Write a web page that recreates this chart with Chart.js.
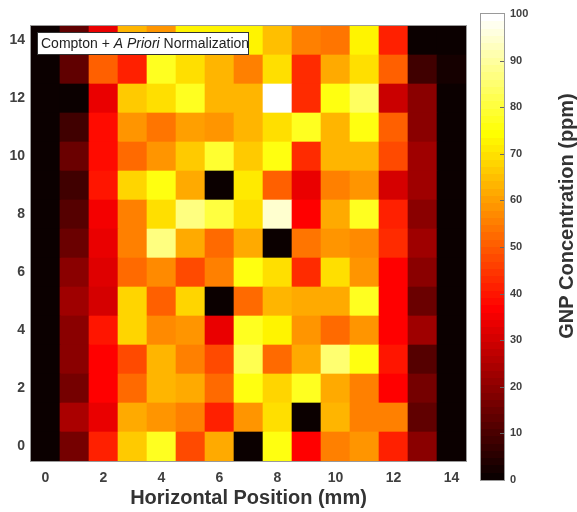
<!DOCTYPE html>
<html>
<head>
<meta charset="utf-8">
<script src="https://cdn.jsdelivr.net/npm/chart.js@4/dist/chart.umd.min.js"></script>
<style>
    body { margin: 0; background: #fff; width: 577px; height: 512px; overflow: hidden; position: relative; }
    #heat-wrap { position: absolute; left: 0; top: 0; width: 477px; height: 512px; }
    #bar-wrap { position: absolute; left: 477px; top: 0; width: 100px; height: 512px; }
</style>
</head>
<body>
<div id="heat-wrap"><canvas id="heatmap"></canvas></div>
<div id="bar-wrap"><canvas id="colorbar"></canvas></div>
<script>
const xPositions = ['0', '1', '2', '3', '4', '5', '6', '7', '8', '9', '10', '11', '12', '13', '14'];
const yTicks = [0, 2, 4, 6, 8, 10, 12, 14];
const barTicks = [0, 10, 20, 30, 40, 50, 60, 70, 80, 90, 100];

// GNP concentration (ppm), one array per vertical position, columns 0..14 mm
const row14 = [0, 13, 33, 64, 59, 72, 72, 73, 65, 56, 54, 73, 41, 0, 0];
const row13 = [0, 13, 50, 41, 77, 69, 63, 55, 69, 43, 62, 70, 50, 9, 3];
const row12 = [0, 0, 33, 67, 70, 78, 63, 63, 100, 43, 75, 84, 29, 19, 0];
const row11 = [0, 9, 39, 58, 54, 60, 58, 63, 70, 77, 64, 75, 50, 19, 0];
const row10 = [0, 15, 38, 53, 59, 67, 79, 67, 76, 43, 64, 64, 47, 23, 0];
const row9 = [0, 9, 40, 68, 75, 61, 0, 71, 50, 34, 56, 58, 30, 23, 0];
const row8 = [0, 11, 35, 56, 70, 87, 81, 70, 95, 37, 61, 77, 41, 20, 0];
const row7 = [0, 15, 34, 55, 86, 62, 52, 61, 0, 54, 59, 57, 43, 23, 0];
const row6 = [0, 19, 32, 52, 57, 48, 56, 75, 70, 43, 69, 58, 36, 19, 0];
const row5 = [0, 23, 31, 68, 50, 68, 0, 52, 64, 61, 61, 77, 37, 15, 0];
const row4 = [0, 20, 40, 68, 57, 58, 34, 78, 73, 59, 53, 59, 37, 23, 0];
const row3 = [0, 19, 36, 47, 63, 56, 48, 82, 53, 61, 85, 75, 40, 12, 0];
const row2 = [0, 16, 36, 53, 64, 62, 52, 75, 68, 78, 61, 56, 37, 17, 0];
const row1 = [0, 24, 33, 62, 58, 55, 41, 59, 70, 0, 63, 56, 56, 13, 0];
const row0 = [0, 16, 41, 67, 77, 47, 62, 0, 75, 36, 56, 58, 41, 19, 0];
const rows = [row0, row1, row2, row3, row4, row5, row6, row7, row8, row9, row10, row11, row12, row13, row14];

const FONT = '"Liberation Sans", Arial, Helvetica, sans-serif';
const LEVELS = 64;

// 64-step "hot" colormap: red ramps first, then green, then blue
function hotColor(idx) {
    const n = 24;
    const i = idx + 1;
    const r = Math.min(1, i / n);
    const g = i <= n ? 0 : Math.min(1, (i - n) / n);
    const b = i <= 2 * n ? 0 : (i - 2 * n) / (LEVELS - 2 * n);
    return `rgb(${Math.round(r * 255)},${Math.round(g * 255)},${Math.round(b * 255)})`;
}

function valueToColor(v) {
    const idx = Math.min(LEVELS - 1, Math.max(0, Math.floor(v / 100 * LEVELS)));
    return hotColor(idx);
}

Chart.defaults.font.family = FONT;
Chart.defaults.animation = false;

const heatDatasets = rows.map((vals, k) => ({
    data: xPositions.map(() => [k - 0.5, k + 0.5]),
    backgroundColor: vals.map(valueToColor),
    borderWidth: 0,
    barPercentage: 1,
    categoryPercentage: 1,
    grouped: false
}));

const heatDecor = {
    id: 'heatDecor',
    afterDraw(chart) {
        const { ctx, chartArea: a } = chart;
        ctx.save();
        ctx.strokeStyle = '#9a9a9a';
        ctx.lineWidth = 1;
        ctx.strokeRect(a.left - 0.5, a.top - 0.5, a.right - a.left + 1, a.bottom - a.top + 1);

        // legend box
        ctx.fillStyle = '#fff';
        ctx.fillRect(37, 32, 212, 23);
        ctx.strokeStyle = '#333';
        ctx.strokeRect(37.5, 32.5, 211, 22);
        const parts = [
            ['Compton + ', 'normal'],
            ['A Priori', 'italic'],
            [' Normalization', 'normal']
        ];
        let x = 41;
        ctx.fillStyle = '#222';
        ctx.textBaseline = 'middle';
        parts.forEach(([txt, style]) => {
            ctx.font = `${style} 14px ${FONT}`;
            ctx.fillText(txt, x, 44);
            x += ctx.measureText(txt).width;
        });
        ctx.restore();
    }
};

new Chart(document.getElementById('heatmap'), {
    type: 'bar',
    data: { labels: xPositions, datasets: heatDatasets },
    options: {
        responsive: true,
        maintainAspectRatio: false,
        events: [],
        layout: { padding: { top: 26, right: 11, left: 0, bottom: 0 } },
        plugins: { legend: { display: false }, tooltip: { enabled: false } },
        scales: {
            x: {
                type: 'category',
                offset: true,
                grid: { display: false, drawTicks: false },
                border: { display: false },
                ticks: {
                    autoSkip: false,
                    maxRotation: 0,
                    padding: 9,
                    color: '#404040',
                    font: { size: 14, weight: 'bold' },
                    callback(v, i) { return i % 2 === 0 ? this.getLabelForValue(v) : ''; }
                },
                title: {
                    display: true,
                    text: 'Horizontal Position (mm)',
                    color: '#333',
                    font: { size: 20, weight: 'bold' },
                    padding: { top: 4, bottom: 2 }
                },
                afterFit(s) { s.height = 51; }
            },
            y: {
                type: 'linear',
                min: -0.5,
                max: 14.5,
                afterBuildTicks(s) { s.ticks = yTicks.map(v => ({ value: v })); },
                grid: { display: false, drawTicks: false },
                border: { display: false },
                ticks: { padding: 6, color: '#404040', font: { size: 14, weight: 'bold' } },
                afterFit(s) { s.width = 31; }
            }
        }
    },
    plugins: [heatDecor]
});

// colour scale: stepped gradient over the 64 levels
function barGradient(context) {
    const chart = context.chart;
    const y = chart.scales.y;
    if (!chart.chartArea || !y) return '#000';
    const g = chart.ctx.createLinearGradient(0, y.getPixelForValue(0), 0, y.getPixelForValue(100));
    for (let i = 0; i < LEVELS; i++) {
        g.addColorStop(i / LEVELS, hotColor(i));
        g.addColorStop((i + 1) / LEVELS, hotColor(i));
    }
    return g;
}

const barDecor = {
    id: 'barDecor',
    afterDraw(chart) {
        const { ctx, chartArea: a, scales } = chart;
        ctx.save();
        ctx.strokeStyle = '#9a9a9a';
        ctx.lineWidth = 1;
        ctx.strokeRect(a.left - 0.5, a.top - 0.5, a.right - a.left + 1, a.bottom - a.top + 1);
        ctx.strokeStyle = '#666';
        barTicks.slice(1, -1).forEach(v => {
            const py = Math.round(scales.y.getPixelForValue(v)) + 0.5;
            ctx.beginPath();
            ctx.moveTo(a.right - 4, py);
            ctx.lineTo(a.right, py);
            ctx.stroke();
        });
        ctx.translate(90, 216);
        ctx.rotate(-Math.PI / 2);
        ctx.fillStyle = '#333';
        ctx.font = `bold 20px ${FONT}`;
        ctx.textAlign = 'center';
        ctx.textBaseline = 'middle';
        ctx.fillText('GNP Concentration (ppm)', 0, 0);
        ctx.restore();
    }
};

new Chart(document.getElementById('colorbar'), {
    type: 'bar',
    data: {
        labels: ['scale'],
        datasets: [{
            data: [[0, 100]],
            backgroundColor: barGradient,
            borderWidth: 0,
            barPercentage: 1,
            categoryPercentage: 1
        }]
    },
    options: {
        responsive: true,
        maintainAspectRatio: false,
        events: [],
        layout: { padding: { top: 14, left: 4, right: 0, bottom: 32 } },
        plugins: { legend: { display: false }, tooltip: { enabled: false } },
        scales: {
            x: { display: false },
            y: {
                position: 'right',
                min: 0,
                max: 100,
                afterBuildTicks(s) { s.ticks = barTicks.map(v => ({ value: v })); },
                grid: { display: false, drawTicks: false },
                border: { display: false },
                ticks: { padding: 6, color: '#404040', font: { size: 11, weight: 'bold' } },
                afterFit(s) { s.width = 73; }
            }
        }
    },
    plugins: [barDecor]
});
</script>
</body>
</html>
